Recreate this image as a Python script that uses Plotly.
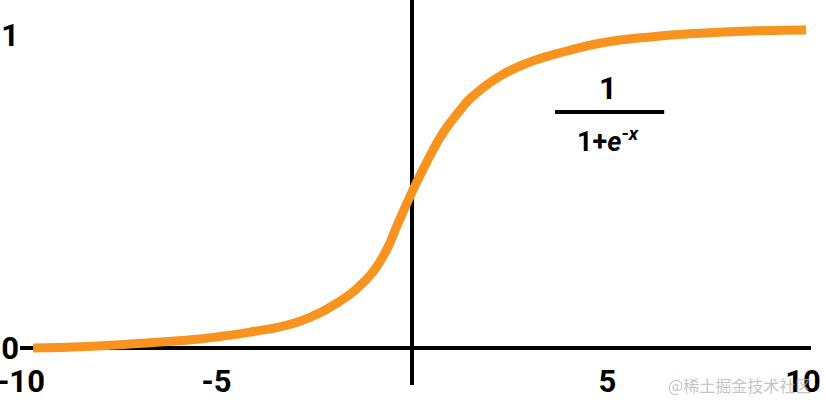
import plotly.graph_objects as go

# Curve points
curve_x = [-9.69, -8.31, -6.62, -5.42, -4.91, -4.14, -2.86, -1.84, -1.41, -1.00, -0.64,
           -0.38, 0.00, 0.38, 0.79, 1.23, 1.48, 2.25, 3.09, 3.96, 4.80, 6.09, 7.37, 8.64, 10.08]
curve_y = [0.000, 0.005, 0.018, 0.029, 0.037, 0.051, 0.086, 0.150, 0.190, 0.243, 0.316,
           0.392, 0.498, 0.595, 0.687, 0.760, 0.796, 0.869, 0.917, 0.949, 0.974, 0.994,
           1.006, 1.013, 1.016]

x_tick_vals = [-10, -5, 5, 10]
x_tick_text = ["-10", "-5", "5", "10"]
y_tick_vals = [0, 1]
y_tick_text = ["0", "1"]

FONT = "Roboto, Liberation Sans, sans-serif"
ORANGE = "#F7931E"

fig = go.Figure()
fig.add_trace(go.Scatter(
    x=curve_x, y=curve_y, mode="lines",
    line=dict(color=ORANGE, width=9, shape="spline", smoothing=1.3),
    hoverinfo="skip", showlegend=False,
))

fig.update_layout(
    width=826, height=400,
    margin=dict(l=20, r=15, t=0, b=15, autoexpand=False),
    paper_bgcolor="white", plot_bgcolor="white",
    showlegend=False,
    xaxis=dict(
        range=[-10.026, 10.205], automargin=False,
        showgrid=False, showline=False,
        zeroline=True, zerolinecolor="black", zerolinewidth=4,
        tickvals=x_tick_vals, ticktext=x_tick_text, ticks="",
        tickfont=dict(family=FONT, size=31, color="black", weight="bold"),
        ticklabelstandoff=-25, ticklabeloverflow="allow",
    ),
    yaxis=dict(
        range=[-0.118, 1.112], automargin=False,
        showgrid=False, showline=False,
        zeroline=True, zerolinecolor="black", zerolinewidth=4,
        tickvals=y_tick_vals, ticktext=y_tick_text, ticks="",
        tickfont=dict(family=FONT, size=31, color="black", weight="bold"),
        ticklabelstandoff=0, ticklabeloverflow="allow",
    ),
)

# Formula 1 / (1 + e^-x)
fig.add_annotation(x=5.01, y=0.83, xref="x", yref="y", text="1", showarrow=False,
                   font=dict(family=FONT, size=31, color="black", weight="bold"))
fig.add_shape(type="line", x0=3.66, x1=6.45, y0=0.754, y1=0.754, xref="x", yref="y",
              line=dict(color="black", width=4))
fig.add_annotation(x=5.01, y=0.665, xref="x", yref="y",
                   text="1+<i>e</i><sup>-<i>x</i></sup>", showarrow=False,
                   font=dict(family=FONT, size=27, color="black", weight="bold"))

# Watermark
fig.add_annotation(x=1.002, y=0.0, xref="paper", yref="paper", xanchor="right", yanchor="middle",
                   text="@稀土掘金技术社区", showarrow=False,
                   font=dict(family="Noto Sans CJK SC", size=16, color="rgba(180,180,180,0.8)"))

fig.write_html("out.html", config={"displayModeBar": False, "staticPlot": True},
               post_script="document.body.style.margin='0';document.body.style.overflow='hidden';")
